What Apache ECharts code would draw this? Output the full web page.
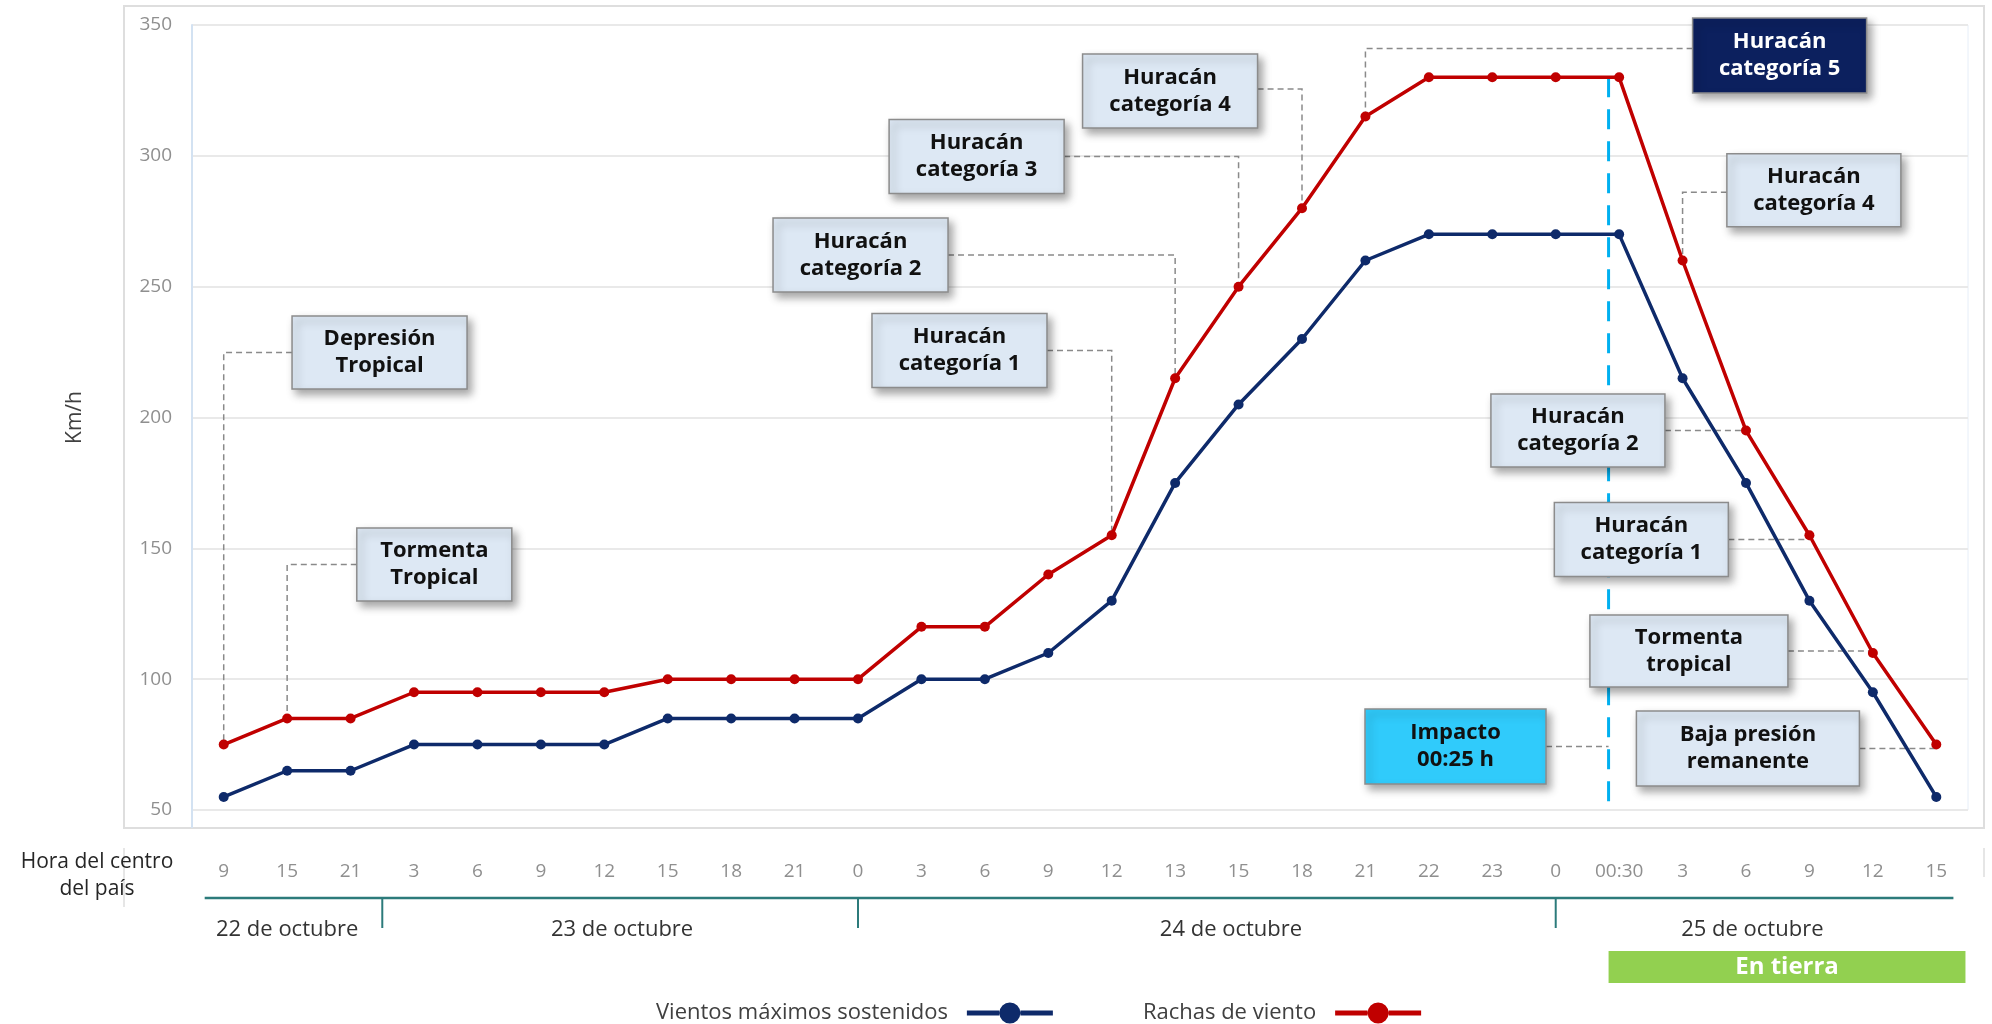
<!DOCTYPE html>
<html><head><meta charset="utf-8">
<script src="https://cdn.jsdelivr.net/npm/echarts@6/dist/echarts.min.js"></script>
<style>html,body{margin:0;padding:0;background:#fff}#c{width:1992px;height:1024px}</style>
</head><body><div id="c"></div>
<script>
// ---------- data ----------
const hours = ['9','15','21','3','6','9','12','15','18','21','0','3','6','9','12','13','15','18','21','22','23','0','00:30','3','6','9','12','15'];
const sustained = [55,65,65,75,75,75,75,85,85,85,85,100,100,110,130,175,205,230,260,270,270,270,270,215,175,130,95,55];
const gusts     = [75,85,85,95,95,95,95,100,100,100,100,120,120,140,155,215,250,280,315,330,330,330,330,260,195,155,110,75];
const yTicks = [50,100,150,200,250,300,350];
const days = ['22 de octubre','23 de octubre','24 de octubre','25 de octubre'];
const dayBreaks = [2.5, 10, 21];
const impactLabel = 'Impacto\n00:25 h';
const impactPos = 21 + 25/30;
const landLabel = 'En tierra';
const stageLabels = ['Depresión\nTropical','Tormenta\nTropical','Huracán\ncategoría 1','Huracán\ncategoría 2','Huracán\ncategoría 3','Huracán\ncategoría 4','Huracán\ncategoría 5','Huracán\ncategoría 4','Huracán\ncategoría 2','Huracán\ncategoría 1','Tormenta\ntropical','Baja presión\nremanente'];
const stageTargets = [0,1,14,15,16,17,18,23,24,25,26,27];
const seriesNames = ['Vientos máximos sostenidos','Rachas de viento'];

// ---------- layout (positions / sizes / styles) ----------
// [centerX (category units), centerY (axis value), width px, height px, connector side, connector dy px, style]
const boxLayout = [
  [2.457,224.8,175,73,'left',0,'n'],
  [3.32,143.8,155,73,'left',0,'n'],
  [11.60,225.6,175,74,'right',0,'n'],
  [10.04,262.1,175,74,'right',0,'n'],
  [11.87,299.7,175,74,'right',0,'n'],
  [14.92,324.8,175,74,'right',-2,'n'],
  [24.53,338.3,174,75,'left',-7,'d'],
  [25.07,286.8,174,73,'left',2,'n'],
  [21.35,195.0,174,73,'right',0,'n'],
  [22.35,153.4,174,74,'right',0,'n'],
  [23.10,110.8,198,72,'right',0,'n'],
  [24.03,73.5,223,75,'right',0,'n']
];
const impactLayout = [19.42,74.3,181,75];
const dayLabelPos = [1.0, 6.28, 15.88, 24.1];
const dayAxisSpan = [-0.3, 27.27];
const landEnd = 27.46;
const boxStyles = {
  n:{fill:'#dde8f4', text:'#111111'},
  d:{fill:'#0c205e', text:'#ffffff'},
  i:{fill:'#30cbfb', text:'#111111'}
};
const FONT = '"Open Sans", "DejaVu Sans", sans-serif';
const NAVY = '#0e2a6a', RED = '#c00000';
// legend icon: thick line with a large dot (aspect 86:22)
const legendIcon = 'path://M0,8.5L32.5,8.5L32.5,13.5L0,13.5Z M53.5,8.5L86,8.5L86,13.5L53.5,13.5Z M32.5,11A10.5,10.5 0 1,0 53.5,11A10.5,10.5 0 1,0 32.5,11Z';

const chart = echarts.init(document.getElementById('c'));
chart.setOption({
  animation:false,
  backgroundColor:'#ffffff',
  grid:{left:192,right:24,top:25,bottom:214,show:true,borderColor:'#e6eef8',borderWidth:1},
  legend:{
    left:651, top:997, align:'right', itemWidth:86, itemHeight:22, itemGap:90,
    textStyle:{fontSize:22,color:'#404040',fontFamily:FONT,padding:[0,14,0,0]},
    data:seriesNames.map(n=>({name:n, icon:legendIcon}))
  },
  xAxis:[
    {type:'category', data:hours, boundaryGap:true,
     axisLine:{show:false}, axisTick:{show:false}, splitLine:{show:false},
     axisLabel:{interval:0, margin:52, color:'#8f8f8f', fontSize:19, fontFamily:FONT}},
    {type:'value', min:-0.5, max:27.5, show:false}
  ],
  yAxis:{
    type:'value', min:yTicks[0], max:yTicks[yTicks.length-1], interval:50,
    name:'Km/h', nameLocation:'middle', nameGap:106,
    nameTextStyle:{fontSize:21,color:'#404040',fontFamily:FONT},
    axisLine:{show:true,onZero:false,lineStyle:{color:'#d3e2f2',width:2}},
    axisTick:{show:false},
    axisLabel:{margin:20,color:'#8f8f8f',fontSize:19,fontFamily:FONT},
    splitLine:{lineStyle:{color:'#e9e9e9',width:2}}
  },
  series:[
    {name:seriesNames[0], type:'line', data:sustained, symbol:'circle', symbolSize:10, z:5,
     lineStyle:{width:3.5,color:NAVY}, itemStyle:{color:NAVY}},
    {name:seriesNames[1], type:'line', data:gusts, symbol:'circle', symbolSize:10, z:5,
     lineStyle:{width:3.5,color:RED}, itemStyle:{color:RED}},
    {name:'impacto', type:'line', xAxisIndex:1, symbol:'none', silent:true, z:4,
     data:[[impactPos, Math.max.apply(null,gusts)],[impactPos, yTicks[0]]],
     lineStyle:{color:'#00b0f0',width:3,type:[20,12]}}
  ]
});

const px = (x,y)=>chart.convertToPixel({xAxisIndex:1,yAxisIndex:0},[x,y]);
const catPx = (i,v)=>chart.convertToPixel({xAxisIndex:0,yAxisIndex:0},[i,v]);
const g = [];
const dash = {stroke:'#8a8a8a', lineWidth:1.5, lineDash:[6,4], fill:null};

function makeBox(label, cx, cy, w, h, st){
  const c = px(cx, cy);
  const s = boxStyles[st];
  g.push({type:'rect', z:20, shape:{x:c[0]-w/2, y:c[1]-h/2, width:w, height:h},
    style:{fill:s.fill, stroke:'#8c8c8c', lineWidth:1.5, shadowBlur:8, shadowOffsetX:4, shadowOffsetY:5, shadowColor:'rgba(0,0,0,0.35)'}});
  g.push({type:'text', z:21, x:c[0], y:c[1],
    style:{text:label, align:'center', verticalAlign:'middle', fontSize:22, fontWeight:'bold', fontFamily:FONT, lineHeight:27, fill:s.text}});
  return c;
}

boxLayout.forEach((b,k)=>{
  const [cx,cy,w,h,side,dy,st] = b;
  const c = makeBox(stageLabels[k], cx, cy, w, h, st);
  const t = catPx(stageTargets[k], gusts[stageTargets[k]]);
  const ex = side==='left' ? c[0]-w/2 : c[0]+w/2;
  const ly = c[1]+dy;
  g.push({type:'polyline', z:3, shape:{points:[[ex,ly],[t[0],ly],[t[0],t[1]]]}, style:dash});
});

// impact box + connector
(function(){
  const [cx,cy,w,h] = impactLayout;
  const c = makeBox(impactLabel, cx, cy, w, h, 'i');
  const lx = px(impactPos, cy)[0];
  g.push({type:'polyline', z:3, shape:{points:[[c[0]+w/2,c[1]],[lx,c[1]]]}, style:dash});
})();

// outer border
g.push({type:'rect', z:0, shape:{x:124,y:6,width:1860,height:822}, style:{fill:null, stroke:'#dedede', lineWidth:2}});
g.push({type:'line', z:0, shape:{x1:124,y1:848,x2:124,y2:907}, style:{stroke:'#e6e6e6', lineWidth:2}});
g.push({type:'line', z:0, shape:{x1:1984,y1:848,x2:1984,y2:877}, style:{stroke:'#e6e6e6', lineWidth:2}});
g.push({type:'line', z:0, shape:{x1:192,y1:810,x2:192,y2:828}, style:{stroke:'#d3e2f2', lineWidth:2}});

// hour row title
g.push({type:'text', x:97, y:876, style:{text:'Hora del centro\ndel país', align:'center', verticalAlign:'middle', fontSize:21, lineHeight:27, fontFamily:FONT, fill:'#262626'}});

// day axis
const dayY = 898;
const a0 = px(dayAxisSpan[0],0)[0], a1 = px(dayAxisSpan[1],0)[0];
g.push({type:'line', shape:{x1:a0,y1:dayY,x2:a1,y2:dayY}, style:{stroke:'#2c7b7b', lineWidth:2.5}});
dayBreaks.forEach(d=>{
  const x = px(d,0)[0];
  g.push({type:'line', shape:{x1:x,y1:dayY,x2:x,y2:dayY+30}, style:{stroke:'#2c7b7b', lineWidth:2}});
});
days.forEach((d,k)=>{
  const x = px(dayLabelPos[k],0)[0];
  g.push({type:'text', x:x, y:930, style:{text:d, align:'center', verticalAlign:'middle', fontSize:22, fontFamily:FONT, fill:'#333333'}});
});

// en tierra
const l0 = px(impactPos,0)[0], l1 = px(landEnd,0)[0];
g.push({type:'rect', shape:{x:l0,y:951,width:l1-l0,height:32}, style:{fill:'#92d050'}});
g.push({type:'text', x:(l0+l1)/2, y:967, style:{text:landLabel, align:'center', verticalAlign:'middle', fontSize:24, fontWeight:'bold', fontFamily:FONT, fill:'#ffffff'}});

chart.setOption({graphic:g});
</script></body></html>
